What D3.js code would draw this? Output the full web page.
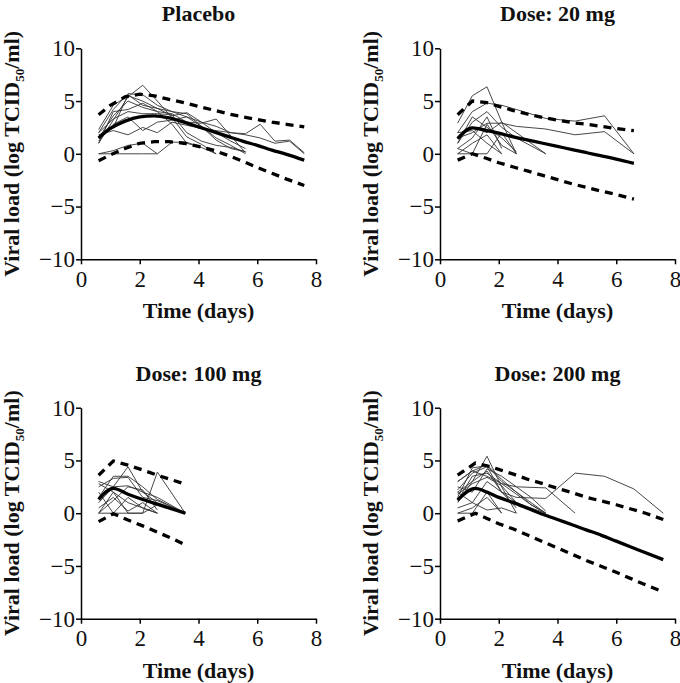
<!DOCTYPE html>
<html><head><meta charset="utf-8">
<script src="https://cdn.jsdelivr.net/npm/d3@7"></script>
<style>body{margin:0;background:#fff}</style>
</head><body><svg id="c" width="680" height="683"></svg>
<script>
// ---------- DATA ----------
const panelTitles = ["Placebo", "Dose: 20 mg", "Dose: 100 mg", "Dose: 200 mg"];
const xTicks = [0, 2, 4, 6, 8];
const yTicks = [-10, -5, 0, 5, 10];

const predTimesPlacebo = [0.6,1.0,1.5,2.0,2.5,3.0,3.5,4.0,4.5,5.0,5.5,6.0,6.5,7.0,7.6];
const meanPlacebo  = [1.5,2.4,3.1,3.5,3.6,3.4,3.0,2.55,2.1,1.65,1.2,0.8,0.35,-0.05,-0.6];
const upperPlacebo = [3.7,4.6,5.4,5.65,5.5,5.15,4.85,4.5,4.15,3.8,3.5,3.25,3.0,2.8,2.55];
const lowerPlacebo = [-0.65,-0.1,0.5,1.0,1.15,1.15,1.0,0.7,0.35,-0.15,-0.7,-1.3,-1.85,-2.4,-3.0];
const subjectsPlacebo = [
  [[0.6,1.0],[1.1,3.2],[1.6,5.4],[2.1,6.5],[2.6,5.0],[3.1,3.4],[3.6,1.6],[4.1,0.9],[4.6,0.0]],
  [[0.6,2.0],[1.1,4.2],[1.6,5.7],[2.1,5.6],[2.6,4.6],[3.1,4.0],[3.6,3.8],[4.1,2.6],[4.6,1.5],[5.1,0.8],[5.6,0.0]],
  [[0.6,1.5],[1.1,3.6],[1.6,5.0],[2.1,4.4],[2.6,4.0],[3.1,3.8],[3.6,3.0],[4.1,2.9],[4.6,3.3],[5.1,1.7],[5.6,0.1]],
  [[0.6,0.0],[1.1,0.0],[1.6,0.0],[2.1,0.0],[2.6,0.0],[3.1,1.1],[3.6,1.1],[4.1,0.6],[4.6,0.0]],
  [[0.6,0.0],[1.1,0.3],[1.6,0.8],[2.1,1.0],[2.6,0.0]],
  [[0.6,1.8],[1.1,2.2],[1.6,1.8],[2.1,2.5],[2.6,2.0],[3.1,3.0],[3.6,2.7],[4.1,2.4],[4.6,2.2],[5.1,2.0],[5.6,1.9],[6.1,2.8],[6.6,1.2],[7.1,1.3],[7.6,0.1]],
  [[0.6,2.3],[1.1,4.6],[1.6,5.5],[2.1,5.0],[2.6,4.3],[3.1,3.6],[3.6,3.9],[4.1,3.0],[4.6,2.0],[5.1,1.2],[5.6,0.5]],
  [[0.6,1.2],[1.1,2.8],[1.6,3.5],[2.1,2.2],[2.6,3.0],[3.1,3.2],[3.6,3.5],[4.1,2.6],[4.6,1.3],[5.1,0.5],[5.6,0.2]],
  [[0.6,1.0],[1.1,4.0],[1.6,4.2],[2.1,4.8],[2.6,4.0],[3.1,2.8],[3.6,1.0],[4.1,0.6]],
  [[0.6,2.0],[1.1,3.3],[1.6,4.0],[2.1,3.8],[2.6,3.8],[3.1,3.7],[3.6,2.0],[4.1,1.2],[4.6,0.8],[5.1,0.6],[5.6,0.2]],
  [[0.6,1.5],[1.1,2.5],[1.6,5.6],[2.1,4.6],[2.6,4.3],[3.1,4.0],[3.6,3.5],[4.1,3.0],[4.6,2.6],[5.1,2.0],[5.6,1.8],[6.1,1.5],[6.6,1.0],[7.1,1.2],[7.6,0.0]]
];

const predTimes20 = [0.6,1.1,1.6,2.0,2.5,3.0,3.5,4.0,4.5,5.0,5.5,6.0,6.6];
const mean20  = [1.45,2.45,2.2,1.95,1.6,1.3,1.0,0.7,0.4,0.1,-0.2,-0.5,-0.9];
const upper20 = [3.7,5.0,4.85,4.5,4.1,3.75,3.45,3.2,2.95,2.8,2.6,2.4,2.2];
const lower20 = [-0.6,0.0,-0.45,-0.85,-1.25,-1.65,-2.05,-2.45,-2.85,-3.2,-3.55,-3.85,-4.3];
const subjects20 = [
  [[0.6,2.9],[1.1,5.5],[1.6,6.35],[2.1,3.0],[2.6,0.0]],
  [[0.6,2.0],[1.1,4.0],[1.6,4.8],[2.1,4.6],[2.6,4.2],[3.6,3.35],[4.6,3.1],[5.6,3.6],[6.6,0.0]],
  [[0.6,1.5],[1.1,2.0],[1.6,2.9],[2.1,2.9],[2.6,2.6],[3.6,2.35],[4.6,1.8],[5.6,2.1],[6.6,0.0]],
  [[0.6,1.0],[1.1,3.0],[1.6,4.0],[2.1,2.5],[2.6,1.5],[3.6,0.0]],
  [[0.6,0.0],[1.1,0.0],[1.6,0.0],[2.1,2.0],[2.6,0.0]],
  [[0.6,0.5],[1.1,1.5],[1.6,3.5],[2.1,0.5]],
  [[0.6,1.5],[1.1,2.5],[1.6,2.0],[2.1,3.0],[2.6,2.0],[3.1,1.0],[3.6,0.0]],
  [[0.6,0.0],[1.1,1.0],[1.6,1.8],[2.1,0.0]],
  [[0.6,1.0],[1.1,3.5],[1.6,2.5],[2.1,1.5],[2.6,0.2]],
  [[0.6,2.0],[1.1,2.2],[1.6,1.0],[2.1,0.0]],
  [[0.6,0.5],[1.1,0.0],[1.6,2.8],[2.1,0.8],[2.6,0.0]]
];

const predTimes100 = [0.6,1.1,1.6,2.1,2.6,3.1,3.55];
const mean100  = [1.3,2.35,1.8,1.3,0.85,0.4,0.0];
const upper100 = [3.6,4.95,4.55,4.1,3.6,3.15,2.75];
const lower100 = [-0.8,-0.05,-0.65,-1.2,-1.8,-2.4,-3.0];
const subjects100 = [
  [[0.6,3.0],[1.1,2.5],[1.6,4.4],[2.1,2.0],[2.6,1.5],[3.55,0.0]],
  [[0.6,2.5],[1.1,3.3],[1.6,3.4],[2.1,1.5],[2.6,1.2],[3.55,0.0]],
  [[0.6,0.0],[1.1,0.0],[1.6,0.0],[2.1,0.0],[2.6,3.9],[3.55,0.0]],
  [[0.6,1.0],[1.1,2.5],[1.6,2.6],[2.1,2.0],[2.6,1.0],[3.55,0.0]],
  [[0.6,0.5],[1.1,1.5],[1.6,0.2],[2.1,1.0],[2.6,0.0]],
  [[0.6,2.0],[1.1,0.0],[1.6,1.5],[2.1,0.5],[2.6,0.0]],
  [[0.6,0.0],[1.1,1.2],[1.6,2.5],[2.1,2.2],[2.6,0.3]],
  [[0.6,1.5],[1.1,3.5],[1.6,3.5],[2.1,2.5],[2.6,1.3],[3.55,0.0]],
  [[0.6,0.0],[1.1,2.0],[1.6,0.0],[2.1,0.0],[2.6,0.8]],
  [[0.6,2.8],[1.1,2.0],[1.6,1.0],[2.1,0.5],[2.6,0.0]]
];

const predTimes200 = [0.6,1.2,1.6,2.0,2.5,3.0,3.5,4.0,4.5,5.0,5.5,6.0,6.5,7.0,7.6];
const mean200  = [1.25,2.35,2.0,1.5,1.0,0.45,-0.1,-0.6,-1.1,-1.6,-2.1,-2.65,-3.2,-3.75,-4.4];
const upper200 = [3.6,4.75,4.5,4.15,3.7,3.2,2.8,2.35,1.95,1.5,1.15,0.8,0.4,0.0,-0.6];
const lower200 = [-0.75,0.0,-0.5,-1.0,-1.5,-2.1,-2.7,-3.3,-3.9,-4.5,-5.05,-5.6,-6.2,-6.8,-7.45];
const subjects200 = [
  [[0.6,2.0],[1.1,3.0],[1.6,4.0],[2.1,2.0],[2.6,1.5],[3.6,1.4],[4.6,3.8],[5.6,3.5],[6.6,2.3],[7.6,0.0]],
  [[0.6,3.0],[1.1,4.0],[1.6,3.5],[2.1,2.8],[2.6,2.5],[3.6,2.4],[4.6,0.0]],
  [[0.6,1.0],[1.1,3.0],[1.6,5.4],[2.1,2.5],[2.6,0.0]],
  [[0.6,0.0],[1.1,0.0],[1.6,2.0],[2.1,0.0]],
  [[0.6,1.5],[1.1,4.3],[1.6,4.5],[2.1,3.0],[2.6,2.0],[3.1,1.0],[3.6,0.0]],
  [[0.6,2.5],[1.1,2.0],[1.6,4.2],[2.1,3.5],[2.6,2.5],[3.1,1.5],[3.6,0.2]],
  [[0.6,0.5],[1.1,1.0],[1.6,3.0],[2.1,2.0],[2.6,1.0],[3.6,0.0]],
  [[0.6,2.0],[1.1,1.0],[1.6,0.3],[2.1,0.5],[2.6,0.0]],
  [[0.6,1.2],[1.1,3.5],[1.6,3.8],[2.1,2.8],[2.6,1.8],[3.1,0.8],[3.6,0.0]],
  [[0.6,3.0],[1.1,4.0],[1.6,4.6],[2.1,3.2],[2.6,2.0],[3.1,0.8],[3.6,0.0]],
  [[0.6,0.0],[1.1,0.5],[1.6,1.5],[2.1,0.0]],
  [[0.6,1.8],[1.1,2.8],[1.6,3.4],[2.1,2.6],[2.6,1.0]],
  [[0.6,2.2],[1.1,3.8],[1.6,4.4],[2.1,2.0],[2.6,0.5]]
];

// ---------- LAYOUT ----------
const panels = [
  {title: panelTitles[0], x0: 81,  yTop: 48.3,  predT: predTimesPlacebo, mean: meanPlacebo, upper: upperPlacebo, lower: lowerPlacebo, subj: subjectsPlacebo},
  {title: panelTitles[1], x0: 440, yTop: 48.3,  predT: predTimes20, mean: mean20, upper: upper20, lower: lower20, subj: subjects20},
  {title: panelTitles[2], x0: 81,  yTop: 407.7, predT: predTimes100, mean: mean100, upper: upper100, lower: lower100, subj: subjects100},
  {title: panelTitles[3], x0: 440, yTop: 407.7, predT: predTimes200, mean: mean200, upper: upper200, lower: lower200, subj: subjects200}
];
const PW = 235, PH = 211;
const svg = d3.select("#c");
const serif = "Liberation Serif";

panels.forEach(p => {
  const x = d3.scaleLinear().domain([0, 8]).range([p.x0, p.x0 + PW]);
  const y = d3.scaleLinear().domain([-10, 10]).range([p.yTop + PH, p.yTop]);
  const g = svg.append("g");

  const ax = g.append("g").attr("transform", `translate(0,${p.yTop + PH})`)
    .call(d3.axisBottom(x).tickValues(xTicks).tickSize(5).tickSizeOuter(0).tickPadding(6));
  const ay = g.append("g").attr("transform", `translate(${p.x0},0)`)
    .call(d3.axisLeft(y).tickValues(yTicks).tickSize(5).tickSizeOuter(0).tickPadding(1));
  [ax, ay].forEach(a => {
    a.attr("font-family", null).attr("font-size", null);
    a.select(".domain").attr("stroke", "#000").attr("stroke-width", 1.5);
    a.selectAll(".tick line").attr("stroke", "#000").attr("stroke-width", 1.5);
    a.selectAll(".tick text").attr("fill", "#111").style("font-family", serif).style("font-size", "23px");
  });

  const line = d3.line().x(d => x(d[0])).y(d => y(d[1]));

  g.append("g").selectAll("path").data(p.subj).join("path")
    .attr("d", line).attr("fill", "none").attr("stroke", "#333").attr("stroke-width", 0.9);

  const pts = arr => p.predT.map((t, i) => [t, arr[i]]);
  [p.upper, p.lower].forEach(arr => {
    g.append("path").attr("d", line(pts(arr))).attr("fill", "none")
      .attr("stroke", "#000").attr("stroke-width", 3.3).attr("stroke-dasharray", "8,6");
  });
  g.append("path").attr("d", line.curve(d3.curveMonotoneX)(pts(p.mean))).attr("fill", "none")
    .attr("stroke", "#000").attr("stroke-width", 3.3);

  g.append("text").attr("x", p.x0 + PW / 2).attr("y", p.yTop - 27)
    .attr("text-anchor", "middle").style("font-family", serif).style("font-weight", "bold")
    .style("font-size", "22px").attr("fill", "#111").text(p.title);
  g.append("text").attr("x", p.x0 + PW / 2).attr("y", p.yTop + PH + 59)
    .attr("text-anchor", "middle").style("font-family", serif).style("font-weight", "bold")
    .style("font-size", "22px").attr("fill", "#111").text("Time (days)");
  const yl = g.append("text")
    .attr("transform", `translate(${p.x0 - 62},${p.yTop + PH / 2}) rotate(-90)`)
    .attr("text-anchor", "middle").style("font-family", serif).style("font-weight", "bold")
    .style("font-size", "22px").attr("fill", "#111");
  yl.append("tspan").text("Viral load (log TCID");
  yl.append("tspan").attr("dy", 5).style("font-size", "13px").text("50");
  yl.append("tspan").attr("dy", -5).text("/ml)");
});
</script></body></html>
